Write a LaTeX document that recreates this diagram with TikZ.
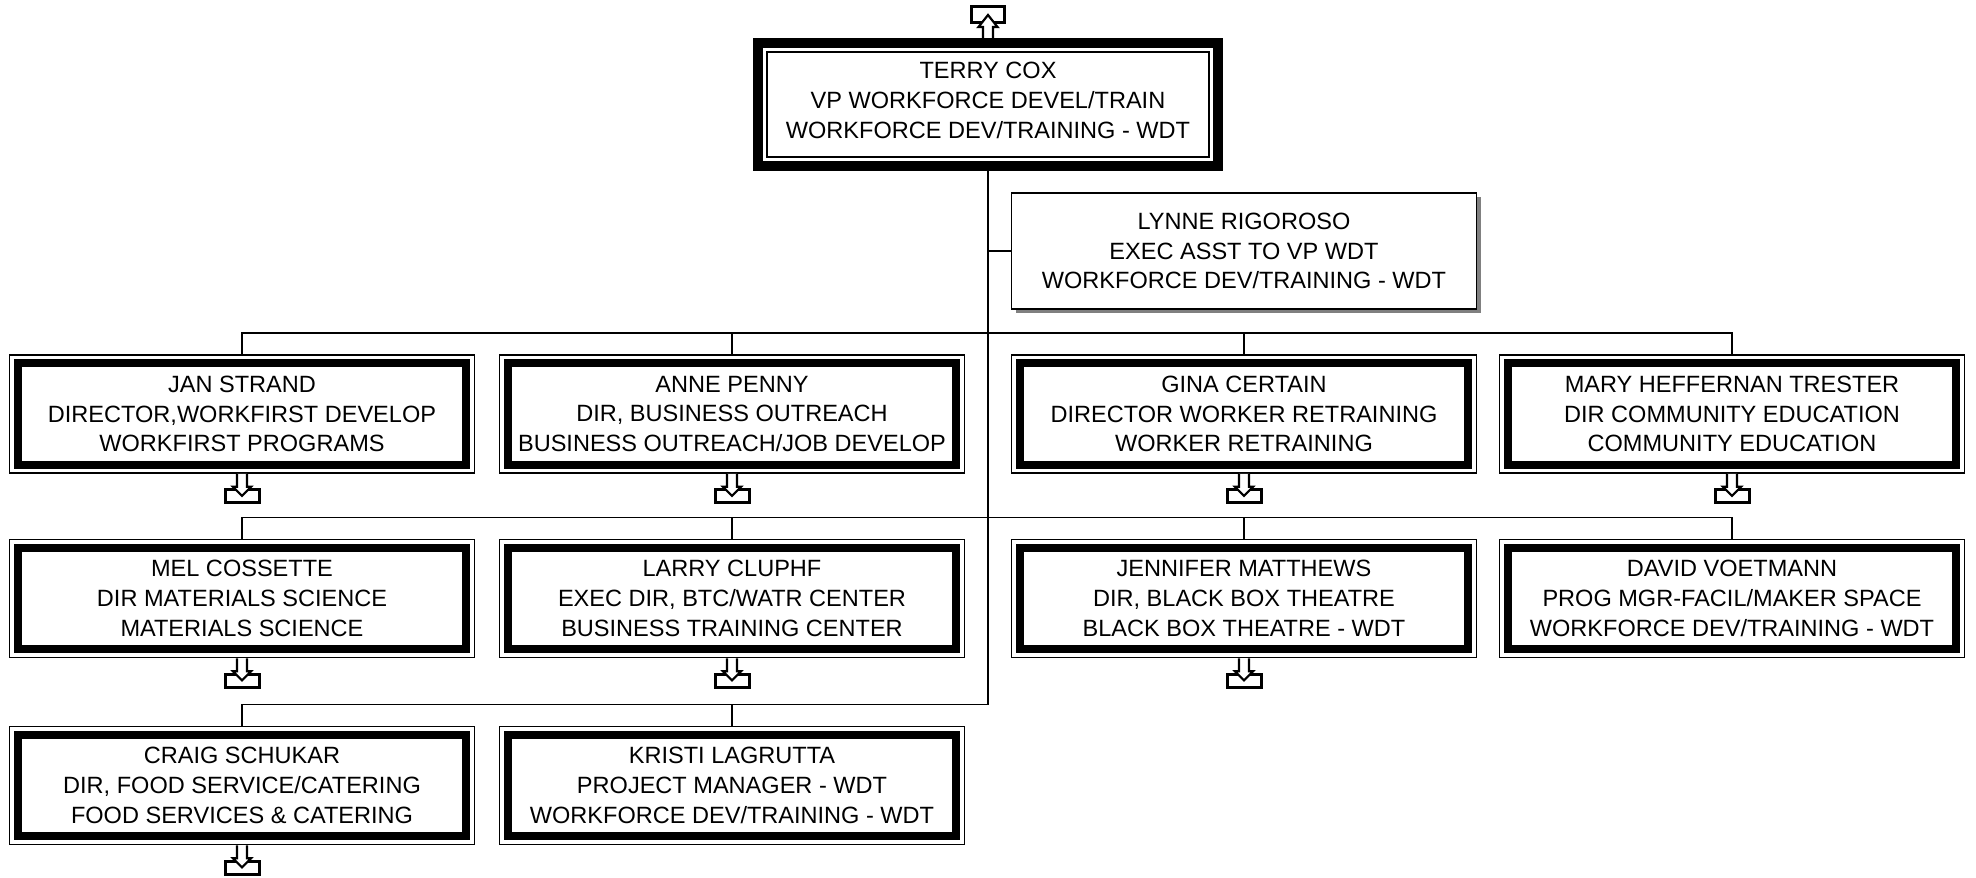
\documentclass[tikz,border=0pt]{standalone}
\usepackage{fontspec}
\setmainfont{Liberation Sans}
\usepackage{tikz}
\usetikzlibrary{shadows}

\newcommand{\boxfont}{\fontsize{6.7}{8.5}\selectfont}
\newcommand{\offpage}[1]{%
	\draw[line width=0.03cm] ([shift={(-0.17,-0.16)}]#1.south) rectangle ([shift={(0.17,-0.29)}]#1.south);
	\draw[line width=0.022cm, fill=white] ([xshift=-0.05cm]#1.south) -- ++(0,-0.13) -- ++(-0.04,0) -- ++(0.09,-0.09) -- ++(0.09,0.09) -- ++(-0.04,0) -- ++(0,0.13);}

\begin{document}
\begin{tikzpicture}[
		staff/.style={shape=rectangle, draw, line width=0.017cm, minimum width=4.65cm, minimum height=1.18cm, inner sep=0pt, align=center, font=\boxfont,
			path picture={\draw[line width=0.08cm] ([shift={(0.082cm,0.082cm)}]path picture bounding box.south west) rectangle ([shift={(-0.082cm,-0.082cm)}]path picture bounding box.north east);}},
		chief/.style={shape=rectangle, draw, line width=0.1cm, minimum width=4.6cm, minimum height=1.23cm, inner sep=0pt, align=center, font=\boxfont, text depth=0.08cm,
			path picture={\draw[line width=0.02cm] ([shift={(0.087cm,0.087cm)}]path picture bounding box.south west) rectangle ([shift={(-0.087cm,-0.087cm)}]path picture bounding box.north east);}},
		assist/.style={shape=rectangle, draw, fill=white, line width=0.017cm, minimum width=4.65cm, minimum height=1.16cm, inner sep=0pt, align=center, font=\boxfont,
			drop shadow={shadow xshift=0.04cm, shadow yshift=-0.04cm, fill=black!50, opacity=1}},
		wire/.style={line width=0.015cm}]
	\useasboundingbox (0, 0) rectangle (19.76, 8.78);
	% Boxes, wires and off-page links:
	\node[chief] (N1) at (9.88, 7.735){TERRY COX\\VP WORKFORCE DEVEL/TRAIN\\WORKFORCE DEV/TRAINING - WDT};
	\node[assist] (N2) at (12.44, 6.27){LYNNE RIGOROSO\\EXEC ASST TO VP WDT\\WORKFORCE DEV/TRAINING - WDT};
	\node[staff] (N3) at (2.42, 4.64){JAN STRAND\\DIRECTOR,WORKFIRST DEVELOP\\WORKFIRST PROGRAMS};
	\node[staff] (N4) at (7.32, 4.64){ANNE PENNY\\DIR, BUSINESS OUTREACH\\BUSINESS OUTREACH/JOB DEVELOP};
	\node[staff] (N5) at (12.44, 4.64){GINA CERTAIN\\DIRECTOR WORKER RETRAINING\\WORKER RETRAINING};
	\node[staff] (N6) at (17.32, 4.64){MARY HEFFERNAN TRESTER\\DIR COMMUNITY EDUCATION\\COMMUNITY EDUCATION};
	\node[staff] (N7) at (2.42, 2.795){MEL COSSETTE\\DIR MATERIALS SCIENCE\\MATERIALS SCIENCE};
	\node[staff] (N8) at (7.32, 2.795){LARRY CLUPHF\\EXEC DIR, BTC/WATR CENTER\\BUSINESS TRAINING CENTER};
	\node[staff] (N9) at (12.44, 2.795){JENNIFER MATTHEWS\\DIR, BLACK BOX THEATRE\\BLACK BOX THEATRE - WDT};
	\node[staff] (N10) at (17.32, 2.795){DAVID VOETMANN\\PROG MGR-FACIL/MAKER SPACE\\WORKFORCE DEV/TRAINING - WDT};
	\node[staff] (N11) at (2.42, 0.925){CRAIG SCHUKAR\\DIR, FOOD SERVICE/CATERING\\FOOD SERVICES \& CATERING};
	\node[staff] (N12) at (7.32, 0.925){KRISTI LAGRUTTA\\PROJECT MANAGER - WDT\\WORKFORCE DEV/TRAINING - WDT};
	\draw[wire] (N1.south) |- ([yshift=0.21cm]N11.north) -- (N11.north);
	\draw[wire] (N2.west) -- (N2.west -| N1.south);
	\draw[wire] (N3.north) -- ++(0, 0.21) -| (N6.north);
	\draw[wire] (N4.north) -- ++(0, 0.21);
	\draw[wire] (N5.north) -- ++(0, 0.21);
	\draw[wire] (N7.north) -- ++(0, 0.21) -| (N10.north);
	\draw[wire] (N8.north) -- ++(0, 0.21);
	\draw[wire] (N9.north) -- ++(0, 0.21);
	\draw[wire] (N12.north) -- ++(0, 0.21);
	\draw[line width=0.03cm] ([shift={(-0.165, 0.15)}]N1.north) rectangle ([shift={(0.165, 0.31)}]N1.north);
	\draw[line width=0.022cm, fill=white] ([xshift=-0.05cm]N1.north) -- ++(0, 0.11) -- ++(-0.045, 0) -- ++(0.095, 0.12) -- ++(0.095, -0.12) -- ++(-0.045, 0) -- ++(0, -0.11);
	\offpage{N3}
	\offpage{N4}
	\offpage{N5}
	\offpage{N6}
	\offpage{N7}
	\offpage{N8}
	\offpage{N9}
	\offpage{N11}
\end{tikzpicture}
\end{document}
